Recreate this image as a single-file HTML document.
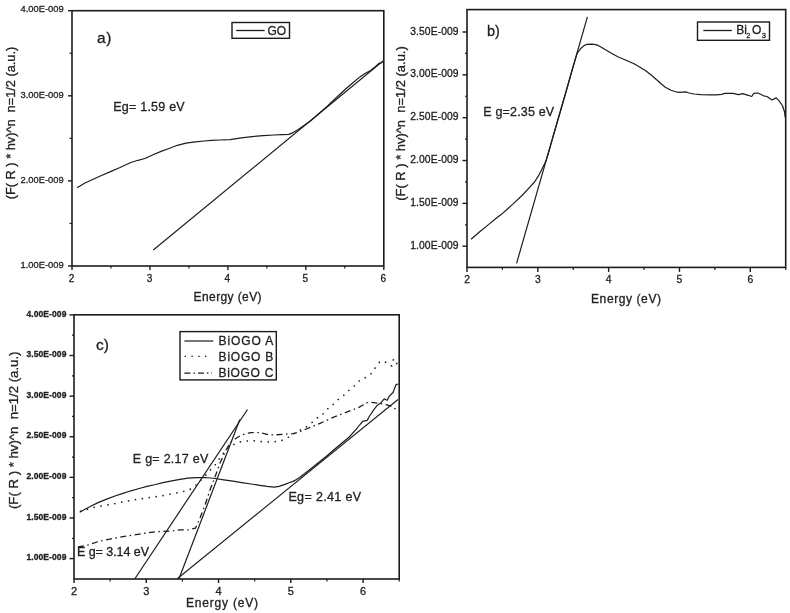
<!DOCTYPE html>
<html><head><meta charset="utf-8"><title>Band gap plots</title>
<style>
html,body{margin:0;padding:0;background:#fff;}
body{width:790px;height:613px;overflow:hidden;}
svg{display:block;font-family:"Liberation Sans", sans-serif;}
text{stroke:#222;stroke-width:0.3px;}
</style></head>
<body>
<svg width="790" height="613" viewBox="0 0 790 613">
<rect x="0" y="0" width="790" height="613" fill="#fff"/>
<rect x="72" y="10.7" width="311.8" height="255.3" fill="none" stroke="#1c1c1c" stroke-width="1.6"/>
<line x1="68.00" y1="266.00" x2="72.00" y2="266.00" stroke="#1c1c1c" stroke-width="1.4"/>
<text x="63.60" y="267.70" font-size="9.8" text-anchor="end" fill="#222" textLength="43" lengthAdjust="spacingAndGlyphs">1.00E-009</text>
<line x1="68.00" y1="180.90" x2="72.00" y2="180.90" stroke="#1c1c1c" stroke-width="1.4"/>
<text x="63.60" y="182.60" font-size="9.8" text-anchor="end" fill="#222" textLength="43" lengthAdjust="spacingAndGlyphs">2.00E-009</text>
<line x1="68.00" y1="95.80" x2="72.00" y2="95.80" stroke="#1c1c1c" stroke-width="1.4"/>
<text x="63.60" y="97.50" font-size="9.8" text-anchor="end" fill="#222" textLength="43" lengthAdjust="spacingAndGlyphs">3.00E-009</text>
<line x1="68.00" y1="10.70" x2="72.00" y2="10.70" stroke="#1c1c1c" stroke-width="1.4"/>
<text x="63.60" y="12.40" font-size="9.8" text-anchor="end" fill="#222" textLength="43" lengthAdjust="spacingAndGlyphs">4.00E-009</text>
<line x1="69.50" y1="223.45" x2="72.00" y2="223.45" stroke="#1c1c1c" stroke-width="1.2"/>
<line x1="69.50" y1="138.35" x2="72.00" y2="138.35" stroke="#1c1c1c" stroke-width="1.2"/>
<line x1="69.50" y1="53.25" x2="72.00" y2="53.25" stroke="#1c1c1c" stroke-width="1.2"/>
<line x1="72.00" y1="266.00" x2="72.00" y2="270.00" stroke="#1c1c1c" stroke-width="1.4"/>
<text x="71.50" y="282.00" font-size="10" text-anchor="middle" fill="#222">2</text>
<line x1="149.95" y1="266.00" x2="149.95" y2="270.00" stroke="#1c1c1c" stroke-width="1.4"/>
<text x="149.45" y="282.00" font-size="10" text-anchor="middle" fill="#222">3</text>
<line x1="227.90" y1="266.00" x2="227.90" y2="270.00" stroke="#1c1c1c" stroke-width="1.4"/>
<text x="227.40" y="282.00" font-size="10" text-anchor="middle" fill="#222">4</text>
<line x1="305.85" y1="266.00" x2="305.85" y2="270.00" stroke="#1c1c1c" stroke-width="1.4"/>
<text x="305.35" y="282.00" font-size="10" text-anchor="middle" fill="#222">5</text>
<line x1="383.80" y1="266.00" x2="383.80" y2="270.00" stroke="#1c1c1c" stroke-width="1.4"/>
<text x="383.30" y="282.00" font-size="10" text-anchor="middle" fill="#222">6</text>
<line x1="110.97" y1="266.00" x2="110.97" y2="268.50" stroke="#1c1c1c" stroke-width="1.2"/>
<line x1="188.93" y1="266.00" x2="188.93" y2="268.50" stroke="#1c1c1c" stroke-width="1.2"/>
<line x1="266.88" y1="266.00" x2="266.88" y2="268.50" stroke="#1c1c1c" stroke-width="1.2"/>
<line x1="344.82" y1="266.00" x2="344.82" y2="268.50" stroke="#1c1c1c" stroke-width="1.2"/>
<text x="227.60" y="301.20" font-size="12" text-anchor="middle" fill="#222" textLength="68" lengthAdjust="spacing">Energy (eV)</text>
<text transform="translate(14.9,123) rotate(-90)" font-size="12.5" text-anchor="middle" fill="#222" textLength="152.5" lengthAdjust="spacingAndGlyphs">(F( R ) * hv)^n&#160; n=1/2 (a.u.)</text>
<text x="97.00" y="42.70" font-size="15.5" text-anchor="start" fill="#222" letter-spacing="0.6">a)</text>
<text x="113.20" y="111.40" font-size="12.5" text-anchor="start" fill="#222" textLength="71.5" lengthAdjust="spacing">Eg= 1.59 eV</text>
<rect x="232" y="22.5" width="57.5" height="15.8" fill="#fff" stroke="#1c1c1c" stroke-width="1.4"/>
<line x1="236.20" y1="30.50" x2="264.60" y2="30.50" stroke="#1c1c1c" stroke-width="1.3"/>
<text x="267.40" y="34.80" font-size="12" text-anchor="start" fill="#222" textLength="18.8" lengthAdjust="spacing">GO</text>
<polyline points="77.1,187.8 85.0,183.0 94.3,178.7 102.0,175.3 110.5,171.6 120.0,167.5 130.8,162.5 138.0,160.3 145.0,158.5 153.0,154.8 161.1,151.4 169.0,148.5 177.3,145.3 186.0,143.2 195.6,141.9 204.0,141.0 211.8,140.3 220.0,140.0 230.0,139.6 241.5,137.8 252.0,136.6 263.0,135.6 273.8,135.0 282.0,134.7 288.9,134.4 293.0,132.6 297.5,130.0 304.0,125.6 310.4,121.0 319.0,113.5 327.6,106.0 336.0,98.0 344.8,89.8 352.0,83.5 359.9,76.9 365.0,73.5 370.6,70.4 375.0,67.0 379.2,63.3 382.5,62.5" fill="none" stroke="#1c1c1c" stroke-width="1.2" stroke-linejoin="round"/>
<line x1="153.30" y1="250.00" x2="383.00" y2="61.00" stroke="#1c1c1c" stroke-width="1.15"/>
<rect x="467" y="9.6" width="318.70000000000005" height="257.79999999999995" fill="none" stroke="#1c1c1c" stroke-width="1.6"/>
<line x1="462.50" y1="246.20" x2="467.00" y2="246.20" stroke="#1c1c1c" stroke-width="1.4"/>
<text x="458.50" y="248.70" font-size="10.3" text-anchor="end" fill="#222" textLength="48.2" lengthAdjust="spacing">1.00E-009</text>
<line x1="462.50" y1="203.36" x2="467.00" y2="203.36" stroke="#1c1c1c" stroke-width="1.4"/>
<text x="458.50" y="205.86" font-size="10.3" text-anchor="end" fill="#222" textLength="48.2" lengthAdjust="spacing">1.50E-009</text>
<line x1="462.50" y1="160.52" x2="467.00" y2="160.52" stroke="#1c1c1c" stroke-width="1.4"/>
<text x="458.50" y="163.02" font-size="10.3" text-anchor="end" fill="#222" textLength="48.2" lengthAdjust="spacing">2.00E-009</text>
<line x1="462.50" y1="117.68" x2="467.00" y2="117.68" stroke="#1c1c1c" stroke-width="1.4"/>
<text x="458.50" y="120.18" font-size="10.3" text-anchor="end" fill="#222" textLength="48.2" lengthAdjust="spacing">2.50E-009</text>
<line x1="462.50" y1="74.84" x2="467.00" y2="74.84" stroke="#1c1c1c" stroke-width="1.4"/>
<text x="458.50" y="77.34" font-size="10.3" text-anchor="end" fill="#222" textLength="48.2" lengthAdjust="spacing">3.00E-009</text>
<line x1="462.50" y1="32.00" x2="467.00" y2="32.00" stroke="#1c1c1c" stroke-width="1.4"/>
<text x="458.50" y="34.50" font-size="10.3" text-anchor="end" fill="#222" textLength="48.2" lengthAdjust="spacing">3.50E-009</text>
<line x1="465.00" y1="224.78" x2="467.00" y2="224.78" stroke="#1c1c1c" stroke-width="1.2"/>
<line x1="465.00" y1="181.94" x2="467.00" y2="181.94" stroke="#1c1c1c" stroke-width="1.2"/>
<line x1="465.00" y1="139.10" x2="467.00" y2="139.10" stroke="#1c1c1c" stroke-width="1.2"/>
<line x1="465.00" y1="96.26" x2="467.00" y2="96.26" stroke="#1c1c1c" stroke-width="1.2"/>
<line x1="465.00" y1="53.42" x2="467.00" y2="53.42" stroke="#1c1c1c" stroke-width="1.2"/>
<line x1="467.00" y1="267.40" x2="467.00" y2="271.90" stroke="#1c1c1c" stroke-width="1.4"/>
<text x="467.00" y="283.20" font-size="10.3" text-anchor="middle" fill="#222">2</text>
<line x1="537.82" y1="267.40" x2="537.82" y2="271.90" stroke="#1c1c1c" stroke-width="1.4"/>
<text x="537.82" y="283.20" font-size="10.3" text-anchor="middle" fill="#222">3</text>
<line x1="608.64" y1="267.40" x2="608.64" y2="271.90" stroke="#1c1c1c" stroke-width="1.4"/>
<text x="608.64" y="283.20" font-size="10.3" text-anchor="middle" fill="#222">4</text>
<line x1="679.47" y1="267.40" x2="679.47" y2="271.90" stroke="#1c1c1c" stroke-width="1.4"/>
<text x="679.47" y="283.20" font-size="10.3" text-anchor="middle" fill="#222">5</text>
<line x1="750.29" y1="267.40" x2="750.29" y2="271.90" stroke="#1c1c1c" stroke-width="1.4"/>
<text x="750.29" y="283.20" font-size="10.3" text-anchor="middle" fill="#222">6</text>
<line x1="502.41" y1="267.40" x2="502.41" y2="269.90" stroke="#1c1c1c" stroke-width="1.2"/>
<line x1="573.23" y1="267.40" x2="573.23" y2="269.90" stroke="#1c1c1c" stroke-width="1.2"/>
<line x1="644.06" y1="267.40" x2="644.06" y2="269.90" stroke="#1c1c1c" stroke-width="1.2"/>
<line x1="714.88" y1="267.40" x2="714.88" y2="269.90" stroke="#1c1c1c" stroke-width="1.2"/>
<line x1="785.70" y1="267.40" x2="785.70" y2="269.90" stroke="#1c1c1c" stroke-width="1.2"/>
<text x="626.00" y="303.40" font-size="12" text-anchor="middle" fill="#222" textLength="70" lengthAdjust="spacing">Energy (eV)</text>
<text transform="translate(404.9,123.5) rotate(-90)" font-size="12.5" text-anchor="middle" fill="#222" textLength="154.5" lengthAdjust="spacingAndGlyphs">(F( R ) * hv)^n&#160; n=1/2 (a.u.)</text>
<text x="486.90" y="36.40" font-size="14.5" text-anchor="start" fill="#222">b)</text>
<text x="483.20" y="116.30" font-size="12.5" text-anchor="start" fill="#222" textLength="71" lengthAdjust="spacing">E g=2.35 eV</text>
<rect x="697.5" y="22" width="72" height="18.3" fill="#fff" stroke="#1c1c1c" stroke-width="1.4"/>
<line x1="703.30" y1="30.50" x2="731.80" y2="30.50" stroke="#1c1c1c" stroke-width="1.3"/>
<text x="736.2" y="34" font-size="12" fill="#222">Bi<tspan x="746.6" font-size="6.5" dy="4">2</tspan><tspan x="752" dy="-4">O</tspan><tspan x="761.8" font-size="7.5" dy="4">3</tspan></text>
<polyline points="471.1,239.3 480.0,231.5 489.4,223.9 495.0,219.2 501.7,214.1 508.0,208.5 513.9,203.1 522.0,195.5 529.8,187.2 534.5,182.0 538.3,176.2 542.0,169.0 545.7,161.6 548.0,154.5 550.2,146.9 553.8,134.0 557.9,120.0 563.0,102.5 568.0,85.0 573.0,67.0 577.2,53.1 581.1,48.2 584.0,45.6 587.0,44.3 592.0,44.2 596.8,44.9 600.5,46.8 604.6,49.2 611.0,53.0 618.3,57.0 626.0,60.3 634.0,63.8 640.0,67.2 645.7,70.7 651.5,75.3 657.5,80.5 661.0,83.8 665.3,87.3 671.0,90.2 677.1,92.2 680.0,92.3 685.6,91.9 689.0,93.0 693.9,94.0 700.9,94.7 710.6,94.8 716.0,94.8 721.8,94.4 724.6,93.4 732.9,93.4 738.5,94.7 742.7,93.7 748.2,95.3 751.7,96.5 753.8,93.4 758.0,93.0 763.6,95.8 767.0,96.5 771.9,100.0 776.1,97.9 778.9,100.6 782.4,105.5 784.5,111.8 785.2,117.4" fill="none" stroke="#1c1c1c" stroke-width="1.2" stroke-linejoin="round"/>
<line x1="516.60" y1="263.30" x2="587.40" y2="16.90" stroke="#1c1c1c" stroke-width="1.2"/>
<rect x="74" y="314.8" width="325.2" height="264.2" fill="none" stroke="#1c1c1c" stroke-width="1.6"/>
<line x1="69.50" y1="558.60" x2="74.00" y2="558.60" stroke="#1c1c1c" stroke-width="1.4"/>
<text x="66.40" y="560.30" font-size="8.5" text-anchor="end" fill="#222" textLength="40" lengthAdjust="spacing" font-weight="bold">1.00E-009</text>
<line x1="69.50" y1="517.99" x2="74.00" y2="517.99" stroke="#1c1c1c" stroke-width="1.4"/>
<text x="66.40" y="519.69" font-size="8.5" text-anchor="end" fill="#222" textLength="40" lengthAdjust="spacing" font-weight="bold">1.50E-009</text>
<line x1="69.50" y1="477.37" x2="74.00" y2="477.37" stroke="#1c1c1c" stroke-width="1.4"/>
<text x="66.40" y="479.07" font-size="8.5" text-anchor="end" fill="#222" textLength="40" lengthAdjust="spacing" font-weight="bold">2.00E-009</text>
<line x1="69.50" y1="436.75" x2="74.00" y2="436.75" stroke="#1c1c1c" stroke-width="1.4"/>
<text x="66.40" y="438.45" font-size="8.5" text-anchor="end" fill="#222" textLength="40" lengthAdjust="spacing" font-weight="bold">2.50E-009</text>
<line x1="69.50" y1="396.14" x2="74.00" y2="396.14" stroke="#1c1c1c" stroke-width="1.4"/>
<text x="66.40" y="397.84" font-size="8.5" text-anchor="end" fill="#222" textLength="40" lengthAdjust="spacing" font-weight="bold">3.00E-009</text>
<line x1="69.50" y1="355.52" x2="74.00" y2="355.52" stroke="#1c1c1c" stroke-width="1.4"/>
<text x="66.40" y="357.22" font-size="8.5" text-anchor="end" fill="#222" textLength="40" lengthAdjust="spacing" font-weight="bold">3.50E-009</text>
<line x1="69.50" y1="314.91" x2="74.00" y2="314.91" stroke="#1c1c1c" stroke-width="1.4"/>
<text x="66.40" y="316.61" font-size="8.5" text-anchor="end" fill="#222" textLength="40" lengthAdjust="spacing" font-weight="bold">4.00E-009</text>
<line x1="72.00" y1="538.29" x2="74.00" y2="538.29" stroke="#1c1c1c" stroke-width="1.2"/>
<line x1="72.00" y1="497.68" x2="74.00" y2="497.68" stroke="#1c1c1c" stroke-width="1.2"/>
<line x1="72.00" y1="457.06" x2="74.00" y2="457.06" stroke="#1c1c1c" stroke-width="1.2"/>
<line x1="72.00" y1="416.45" x2="74.00" y2="416.45" stroke="#1c1c1c" stroke-width="1.2"/>
<line x1="72.00" y1="375.83" x2="74.00" y2="375.83" stroke="#1c1c1c" stroke-width="1.2"/>
<line x1="72.00" y1="335.22" x2="74.00" y2="335.22" stroke="#1c1c1c" stroke-width="1.2"/>
<line x1="74.00" y1="579.00" x2="74.00" y2="583.00" stroke="#1c1c1c" stroke-width="1.4"/>
<text x="74.00" y="594.80" font-size="11" text-anchor="middle" fill="#222">2</text>
<line x1="146.27" y1="579.00" x2="146.27" y2="583.00" stroke="#1c1c1c" stroke-width="1.4"/>
<text x="146.27" y="594.80" font-size="11" text-anchor="middle" fill="#222">3</text>
<line x1="218.53" y1="579.00" x2="218.53" y2="583.00" stroke="#1c1c1c" stroke-width="1.4"/>
<text x="218.53" y="594.80" font-size="11" text-anchor="middle" fill="#222">4</text>
<line x1="290.80" y1="579.00" x2="290.80" y2="583.00" stroke="#1c1c1c" stroke-width="1.4"/>
<text x="290.80" y="594.80" font-size="11" text-anchor="middle" fill="#222">5</text>
<line x1="363.07" y1="579.00" x2="363.07" y2="583.00" stroke="#1c1c1c" stroke-width="1.4"/>
<text x="363.07" y="594.80" font-size="11" text-anchor="middle" fill="#222">6</text>
<line x1="110.13" y1="579.00" x2="110.13" y2="581.50" stroke="#1c1c1c" stroke-width="1.2"/>
<line x1="182.40" y1="579.00" x2="182.40" y2="581.50" stroke="#1c1c1c" stroke-width="1.2"/>
<line x1="254.67" y1="579.00" x2="254.67" y2="581.50" stroke="#1c1c1c" stroke-width="1.2"/>
<line x1="326.93" y1="579.00" x2="326.93" y2="581.50" stroke="#1c1c1c" stroke-width="1.2"/>
<line x1="399.20" y1="579.00" x2="399.20" y2="581.50" stroke="#1c1c1c" stroke-width="1.2"/>
<text x="222.00" y="607.40" font-size="12" text-anchor="middle" fill="#222" textLength="72" lengthAdjust="spacing">Energy (eV)</text>
<text transform="translate(18.2,430.3) rotate(-90)" font-size="12.5" text-anchor="middle" fill="#222" textLength="157.5" lengthAdjust="spacingAndGlyphs">(F( R ) * hv)^n&#160; n=1/2 (a.u.)</text>
<text x="96.00" y="350.40" font-size="15.5" text-anchor="start" fill="#222">c)</text>
<text x="132.80" y="462.80" font-size="12.5" text-anchor="start" fill="#222" textLength="75.5" lengthAdjust="spacing">E g= 2.17 eV</text>
<text x="288.40" y="500.50" font-size="12.5" text-anchor="start" fill="#222" textLength="72.7" lengthAdjust="spacing">Eg= 2.41 eV</text>
<text x="77.00" y="555.50" font-size="12.5" text-anchor="start" fill="#222" textLength="72" lengthAdjust="spacing">E g= 3.14 eV</text>
<rect x="180" y="331.6" width="96.3" height="48.3" fill="#fff" stroke="#1c1c1c" stroke-width="1.4"/>
<line x1="184.40" y1="341.00" x2="213.30" y2="341.00" stroke="#1c1c1c" stroke-width="1.2"/>
<line x1="184.60" y1="356.40" x2="210.00" y2="356.40" stroke="#1c1c1c" stroke-width="1.4" stroke-dasharray="1.4 5.4"/>
<line x1="184.40" y1="373.20" x2="212.00" y2="373.20" stroke="#1c1c1c" stroke-width="1.2" stroke-dasharray="6 3 1.5 3"/>
<text x="218.60" y="344.60" font-size="12" text-anchor="start" fill="#222" textLength="54.7" lengthAdjust="spacing">BiOGO A</text>
<text x="218.60" y="360.60" font-size="12" text-anchor="start" fill="#222" textLength="54.7" lengthAdjust="spacing">BiOGO B</text>
<text x="218.60" y="376.60" font-size="12" text-anchor="start" fill="#222" textLength="54.7" lengthAdjust="spacing">BiOGO C</text>
<polyline points="79.7,512.2 85.0,509.2 90.3,506.5 98.0,502.6 106.6,499.1 115.0,496.0 122.9,493.4 131.0,490.8 139.2,488.5 147.0,486.4 155.5,484.5 163.0,482.6 171.8,480.9 180.0,479.3 188.0,478.1 197.0,477.6 205.9,477.5 215.0,478.5 223.9,479.9 233.0,481.2 241.8,482.6 251.0,484.0 259.8,485.3 267.0,486.4 274.1,487.1 279.0,486.4 284.9,484.4 289.0,482.8 293.0,481.4 296.5,479.5 299.6,477.4 309.0,470.3 319.2,462.0 327.0,455.8 334.8,449.0 342.0,443.0 349.2,437.0 355.9,429.7 360.0,424.5 362.7,421.4 367.1,420.4 369.6,416.0 373.5,410.1 377.4,405.2 380.3,403.3 384.2,398.9 387.2,400.3 389.1,396.4 393.0,392.5 396.0,384.7 398.5,384.0" fill="none" stroke="#1c1c1c" stroke-width="1.2" stroke-linejoin="round"/>
<polyline points="80.0,511.5 86.1,509.7 93.5,507.5 100.3,506.3 106.7,505.1 113.5,504.0 120.9,502.3 126.8,501.2 139.2,499.1 155.5,496.7 162.3,495.7 171.8,493.9 182.8,491.7 189.7,489.6 196.0,485.0 205.0,476.0 215.0,465.0 222.0,455.0 228.0,448.0 231.6,445.6 238.0,442.4 244.3,441.1 253.2,440.8 263.3,441.8 273.4,442.0 281.0,440.8 286.8,438.2 293.7,433.7 306.3,426.8 312.5,422.2 318.2,417.1 323.4,413.7 329.1,407.4 333.7,404.0 339.4,398.3 344.5,394.8 349.6,389.7 355.9,384.7 359.8,380.3 365.2,377.8 370.5,374.4 374.8,368.5 379.7,362.0 384.6,361.2 387.9,364.5 392.0,366.1 393.6,358.8 396.0,361.2 398.5,369.4" fill="none" stroke="#1c1c1c" stroke-width="1.5" stroke-linejoin="round" stroke-dasharray="1.5 5.5"/>
<polyline points="78.0,547.0 88.7,544.8 98.5,541.5 109.9,539.1 122.9,536.6 139.2,534.2 155.5,531.7 170.3,531.1 180.0,529.9 188.5,529.9 195.4,528.2 200.0,518.0 205.0,505.0 210.0,490.0 215.0,477.0 220.0,463.0 226.0,450.0 231.0,442.0 235.0,439.0 241.8,434.8 250.6,432.7 260.8,432.7 268.4,434.8 276.0,434.8 288.6,433.9 293.7,433.7 300.5,431.4 307.4,428.5 320.0,423.4 332.5,417.7 342.8,413.7 348.5,411.4 358.8,407.4 362.7,405.2 365.7,402.8 371.5,402.3 379.4,403.3 386.2,404.7 392.1,406.7 397.0,410.1" fill="none" stroke="#1c1c1c" stroke-width="1.3" stroke-linejoin="round" stroke-dasharray="6 3.5 1.5 3.5"/>
<line x1="134.70" y1="579.00" x2="247.50" y2="409.50" stroke="#1c1c1c" stroke-width="1.2"/>
<line x1="179.00" y1="578.80" x2="239.80" y2="419.50" stroke="#1c1c1c" stroke-width="1.2"/>
<line x1="177.20" y1="578.80" x2="398.00" y2="399.50" stroke="#1c1c1c" stroke-width="1.1"/>
</svg>
</body></html>
